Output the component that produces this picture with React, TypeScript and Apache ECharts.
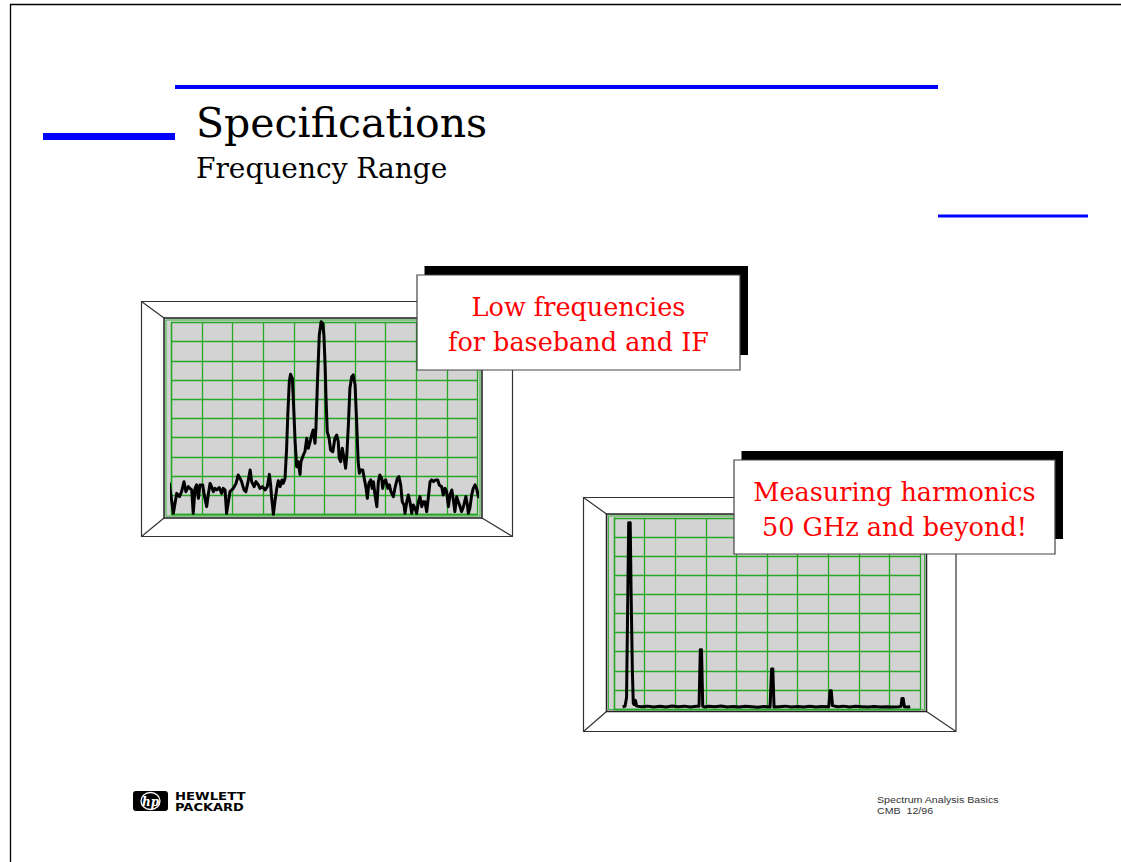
import React, { useEffect, useRef } from "react";
import * as echarts from "echarts";

// ---- Data (divisions on a 10 x 10 graticule) ----
const gridDivisions = [0, 10];

// Left screen: low-frequency spectrum trace [frequency division, level division]
const lowFreqTrace: [number, number][] = [
  [-0.14, 1.54], [-0.07, 1.62], [0.06, 0.06], [0.17, 1.1], [0.26, 0.93], [0.33, 1.19], [0.41, 1.71],
  [0.47, 1.19], [0.55, 1.45], [0.6, 1.36], [0.66, 1.28], [0.71, 0.06], [0.77, 1.36], [0.82, 1.54],
  [0.88, 0.84], [0.93, 1.54], [1.02, 1.54], [1.07, 1.02], [1.15, 0.41], [1.2, 1.02], [1.26, 1.62],
  [1.31, 1.45], [1.37, 1.19], [1.42, 1.36], [1.48, 1.28], [1.56, 1.4], [1.64, 1.1], [1.69, 1.36],
  [1.75, 1.28], [1.8, 0.06], [1.86, 0.67], [1.91, 1.19], [1.97, 1.28], [2.02, 1.36], [2.11, 1.62],
  [2.18, 2.06], [2.24, 1.88], [2.29, 1.71], [2.37, 1.28], [2.43, 1.19], [2.49, 1.62], [2.57, 2.32],
  [2.62, 1.71], [2.7, 1.45], [2.76, 1.71], [2.84, 1.54], [2.89, 1.36], [2.97, 1.45], [3.06, 1.28],
  [3.13, 1.45], [3.2, 2.09], [3.24, 1.54], [3.27, 0.93], [3.33, 0.01], [3.38, 0.67], [3.44, 1.36],
  [3.49, 1.76], [3.55, 1.45], [3.61, 1.8], [3.65, 1.62], [3.71, 1.88], [3.76, 3.36], [3.8, 5.18],
  [3.85, 6.92], [3.89, 7.3], [3.95, 7.09], [3.98, 6.05], [4.04, 3.79], [4.09, 2.49], [4.14, 2.75],
  [4.2, 2.09], [4.23, 2.75], [4.31, 3.1], [4.36, 3.27], [4.42, 3.97], [4.47, 3.45], [4.53, 3.79],
  [4.58, 4.14], [4.63, 4.4], [4.69, 3.71], [4.72, 4.49], [4.77, 6.92], [4.83, 9.35], [4.89, 10.04],
  [4.94, 9.96], [4.98, 9.35], [5.02, 7.79], [5.05, 6.05], [5.09, 4.31], [5.15, 3.97], [5.2, 3.36],
  [5.27, 3.27], [5.34, 3.97], [5.4, 4.14], [5.45, 3.79], [5.48, 2.93], [5.53, 2.75], [5.58, 3.45],
  [5.64, 2.93], [5.69, 2.41], [5.73, 3.1], [5.78, 4.66], [5.83, 6.57], [5.89, 7.18], [5.94, 7.27],
  [6.0, 6.74], [6.05, 4.83], [6.1, 2.75], [6.14, 2.15], [6.18, 2.32], [6.25, 2.32], [6.3, 1.88],
  [6.36, 1.36], [6.4, 0.84], [6.45, 1.62], [6.51, 1.8], [6.56, 1.36], [6.6, 1.71], [6.65, 1.02],
  [6.71, 0.41], [6.76, 1.71], [6.81, 2.06], [6.87, 1.88], [6.9, 1.36], [6.94, 1.71], [7.0, 1.8],
  [7.07, 1.36], [7.12, 1.54], [7.17, 1.19], [7.25, 0.93], [7.3, 1.36], [7.38, 1.88], [7.43, 1.97],
  [7.49, 1.54], [7.54, 0.67], [7.6, 0.49], [7.63, 0.06], [7.69, 0.67], [7.74, 1.02], [7.79, 0.67],
  [7.85, 0.06], [7.9, 0.49], [7.96, 0.32], [8.01, 0.06], [8.07, 0.67], [8.12, 0.93], [8.18, 0.41],
  [8.23, 0.67], [8.28, 0.67], [8.34, 0.15], [8.39, 0.84], [8.45, 1.71], [8.5, 1.8], [8.56, 1.71],
  [8.63, 1.8], [8.7, 1.8], [8.75, 1.54], [8.83, 1.45], [8.88, 1.02], [8.94, 1.36], [8.99, 1.19],
  [9.05, 0.41], [9.1, 1.02], [9.16, 1.28], [9.21, 0.76], [9.26, 0.15], [9.32, 0.93], [9.37, 0.67],
  [9.43, 0.41], [9.48, 0.15], [9.54, 0.41], [9.62, 0.93], [9.67, 0.49], [9.7, 0.06], [9.75, 0.32],
  [9.81, 1.02], [9.86, 1.36], [9.92, 1.54], [9.97, 1.36], [10.03, 0.93], [10.08, 0.93],
];

// Right screen: harmonics trace [frequency division, level division]
const harmonicTrace: [number, number][] = [
  [0.28, 0.12], [0.36, 0.14], [0.41, 0.6], [0.44, 4.5], [0.48, 9.75], [0.53, 9.75], [0.56, 6.0],
  [0.6, 2.0], [0.63, 0.3], [0.66, 0.22], [0.7, 0.45], [0.74, 0.15], [0.9, 0.12], [1.1, 0.15],
  [1.3, 0.1], [1.5, 0.14], [1.7, 0.11], [1.9, 0.16], [2.1, 0.12], [2.3, 0.15], [2.5, 0.11],
  [2.7, 0.14], [2.78, 0.15], [2.82, 3.1], [2.86, 3.1], [2.9, 0.15], [2.95, 0.1], [3.1, 0.14],
  [3.3, 0.12], [3.5, 0.16], [3.7, 0.11], [3.9, 0.13], [4.1, 0.1], [4.3, 0.14], [4.5, 0.12],
  [4.7, 0.09], [4.9, 0.13], [5.1, 0.1], [5.15, 2.1], [5.19, 2.1], [5.23, 0.1], [5.4, 0.12],
  [5.6, 0.15], [5.8, 0.1], [6.0, 0.13], [6.2, 0.11], [6.4, 0.14], [6.6, 0.1], [6.8, 0.13],
  [7.02, 0.12], [7.06, 0.95], [7.1, 0.95], [7.14, 0.18], [7.3, 0.12], [7.5, 0.15], [7.7, 0.11],
  [7.9, 0.14], [8.1, 0.12], [8.3, 0.1], [8.5, 0.13], [8.7, 0.11], [8.9, 0.12], [9.1, 0.1],
  [9.3, 0.12], [9.38, 0.14], [9.41, 0.55], [9.45, 0.55], [9.49, 0.12], [9.6, 0.1], [9.68, 0.12],
];

// ---- Texts ----
const titleText = "Specifications";
const subtitleText = "Frequency Range";
const callout1Lines = ["Low frequencies", "for baseband and IF"];
const callout2Lines = ["Measuring harmonics", "50 GHz and beyond!"];
const logoLines = ["HEWLETT", "PACKARD"];
const footerLines = ["Spectrum Analysis Basics", "CMB  12/96"];

const GREEN = "#26a826";
const BLUE = "#0000ff";
const SERIF = '"DejaVu Serif", serif';

function bezel(o: number[], inner: number[], z: number) {
  const [ox1, oy1, ox2, oy2] = o;
  const [ix1, iy1, ix2, iy2] = inner;
  const st = { stroke: "#333", lineWidth: 1.2 };
  return [
    { type: "rect", z, shape: { x: ox1, y: oy1, width: ox2 - ox1, height: oy2 - oy1 }, style: { fill: "#fff", ...st } },
    { type: "line", z: z + 0.1, shape: { x1: ox1, y1: oy1, x2: ix1, y2: iy1 }, style: st },
    { type: "line", z: z + 0.1, shape: { x1: ox2, y1: oy1, x2: ix2, y2: iy1 }, style: st },
    { type: "line", z: z + 0.1, shape: { x1: ox1, y1: oy2, x2: ix1, y2: iy2 }, style: st },
    { type: "line", z: z + 0.1, shape: { x1: ox2, y1: oy2, x2: ix2, y2: iy2 }, style: st },
    { type: "rect", z: z + 0.2, shape: { x: ix1, y: iy1, width: ix2 - ix1, height: iy2 - iy1 }, style: { fill: "#d3d3d3", stroke: "#222", lineWidth: 1.5 } },
    { type: "rect", z: z + 0.3, shape: { x: ix1 + 2, y: iy1 + 2, width: ix2 - ix1 - 4, height: iy2 - iy1 - 4 }, style: { fill: "none", stroke: "#3cb43c", lineWidth: 1 } },
  ];
}

function callout(box: number[], lines: string[], lineY: number[], cx: number) {
  const [x1, y1, x2, y2] = box;
  const els: any[] = [
    { type: "rect", z: 20, shape: { x: x1 + 7.5, y: y1 - 9, width: x2 - x1 + 0.5, height: y2 - y1 - 6 }, style: { fill: "#000" } },
    { type: "rect", z: 21, shape: { x: x1, y: y1, width: x2 - x1, height: y2 - y1 }, style: { fill: "#fff", stroke: "#444", lineWidth: 1.2 } },
  ];
  lines.forEach((t, i) => {
    els.push({
      type: "text", z: 22, x: cx, y: lineY[i],
      style: { text: t, fill: "#ff0000", fontFamily: SERIF, fontSize: 25.5, align: "center", verticalAlign: "middle" },
    });
  });
  return els;
}

function axis(gridIndex: number) {
  return {
    type: "value", gridIndex, min: gridDivisions[0], max: gridDivisions[1], interval: 1, z: 3,
    axisLabel: { show: false }, axisTick: { show: false },
    axisLine: { show: true, lineStyle: { color: GREEN, width: 1.3 } },
    splitLine: { show: true, lineStyle: { color: GREEN, width: 1.3 } },
  };
}

export default function App() {
  const ref = useRef<HTMLDivElement>(null);
  useEffect(() => {
    if (!ref.current) return;
    const chart = echarts.init(ref.current, null, { renderer: "svg" });
    const graphics: any[] = [
      { type: "line", z: 1, shape: { x1: 10, y1: 4.5, x2: 1121, y2: 4.5 }, style: { stroke: "#000", lineWidth: 1.3 } },
      { type: "line", z: 1, shape: { x1: 10.5, y1: 4, x2: 10.5, y2: 862 }, style: { stroke: "#000", lineWidth: 1.3 } },
      { type: "rect", z: 1, shape: { x: 175, y: 85, width: 763, height: 4 }, style: { fill: BLUE } },
      { type: "rect", z: 1, shape: { x: 43, y: 133, width: 132, height: 7 }, style: { fill: BLUE } },
      { type: "rect", z: 1, shape: { x: 938, y: 214.5, width: 150, height: 3 }, style: { fill: BLUE } },
      { type: "text", z: 5, x: 196, y: 123, style: { text: titleText, fill: "#000", fontFamily: SERIF, fontSize: 41, align: "left", verticalAlign: "middle" } },
      { type: "text", z: 5, x: 196, y: 168.5, style: { text: subtitleText, fill: "#000", fontFamily: SERIF, fontSize: 28, align: "left", verticalAlign: "middle" } },
      ...bezel([141.5, 301.5, 512.5, 536.5], [164, 318, 482, 518], 1),
      ...bezel([583.5, 497.5, 956, 731.5], [606.5, 514, 926.5, 711.5], 1),
      ...callout([417, 275, 740, 370], callout1Lines, [306.5, 341.5], 578.5),
      ...callout([734, 460, 1055, 554], callout2Lines, [491.5, 526.5], 894.5),
      { type: "rect", z: 5, shape: { x: 133, y: 791, width: 35, height: 20, r: 3 }, style: { fill: "#000" } },
      { type: "ellipse", z: 6, shape: { cx: 150.5, cy: 801, rx: 9.5, ry: 8.5 }, style: { fill: "none", stroke: "#fff", lineWidth: 1.3 } },
      { type: "text", z: 7, x: 150.5, y: 801.5, style: { text: "hp", fill: "#fff", fontFamily: SERIF, fontStyle: "italic", fontWeight: "bold", fontSize: 12, align: "center", verticalAlign: "middle" } },
      { type: "text", z: 5, x: 175, y: 796, scaleX: 1.26, style: { text: logoLines[0], fill: "#000", fontFamily: '"DejaVu Sans", sans-serif', fontWeight: "bold", fontSize: 10.5, align: "left", verticalAlign: "middle" } },
      { type: "text", z: 5, x: 175, y: 807, scaleX: 1.24, style: { text: logoLines[1], fill: "#000", fontFamily: '"DejaVu Sans", sans-serif', fontWeight: "bold", fontSize: 10.5, align: "left", verticalAlign: "middle" } },
      { type: "text", z: 5, x: 877, y: 799.5, scaleX: 1.25, style: { text: footerLines[0], fill: "#333", fontFamily: '"Liberation Sans", sans-serif', fontSize: 8.5, align: "left", verticalAlign: "middle" } },
      { type: "text", z: 5, x: 877, y: 810.5, scaleX: 1.25, style: { text: footerLines[1], fill: "#333", fontFamily: '"Liberation Sans", sans-serif', fontSize: 8.5, align: "left", verticalAlign: "middle" } },
    ];

    chart.setOption({
      animation: false,
      backgroundColor: "#ffffff",
      grid: [
        { left: 171.5, top: 322.5, width: 306, height: 192, containLabel: false },
        { left: 614, top: 518, width: 306, height: 191, containLabel: false },
      ],
      xAxis: [axis(0), axis(1)],
      yAxis: [axis(0), axis(1)],
      series: [
        {
          type: "line", xAxisIndex: 0, yAxisIndex: 0, data: lowFreqTrace, showSymbol: false, clip: false, z: 5,
          lineStyle: { color: "#000", width: 3, join: "round" }, silent: true,
        },
        {
          type: "line", xAxisIndex: 1, yAxisIndex: 1, data: harmonicTrace, showSymbol: false, clip: false, z: 5,
          lineStyle: { color: "#000", width: 3, join: "round" }, silent: true,
        },
      ],
      graphic: { elements: graphics },
    });
    return () => chart.dispose();
  }, []);
  return (
    <div
      ref={ref}
      style={{ position: "absolute", left: 0, top: 0, width: 1121, height: 862, background: "#fff" }}
    />
  );
}
